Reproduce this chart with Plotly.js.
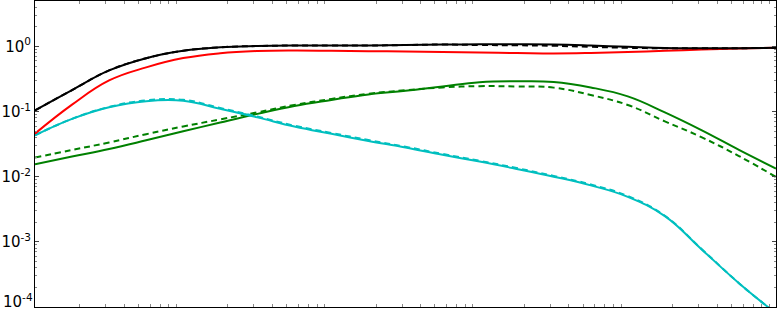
<!DOCTYPE html>
<html>
<head>
<meta charset="utf-8">
<script src="https://cdn.plot.ly/plotly-3.0.1.min.js"></script>
<style>html,body{margin:0;padding:0;background:#fff;}#chart{width:778px;height:313px;}</style>
</head>
<body>
<div id="chart"></div>
<script>
// x positions (log scale, 10^0 .. 10^5)
const xVals = [1, 1.778, 3.162, 5.623, 10, 17.78, 31.62, 56.23, 100, 177.8, 316.2, 562.3, 1000, 1778, 3162, 5623, 10000, 17783, 31623, 56234, 100000];

const blackSolid = [0.1045, 0.214, 0.429, 0.662, 0.859, 0.972, 1.018, 1.036, 1.036, 1.036, 1.054, 1.073, 1.081, 1.081, 1.073, 1.036, 0.989, 0.948, 0.942, 0.942, 0.955];
const blackDashed = [0.1045, 0.214, 0.429, 0.662, 0.859, 0.972, 1.018, 1.036, 1.036, 1.036, 1.054, 1.073, 1.054, 1.045, 1.027, 0.989, 0.955, 0.940, 0.940, 0.942, 0.955];
const redSolid = [0.0459, 0.128, 0.301, 0.478, 0.664, 0.789, 0.853, 0.868, 0.859, 0.847, 0.838, 0.823, 0.809, 0.795, 0.781, 0.795, 0.823, 0.859, 0.900, 0.932, 0.955];
const cyanSolid = [0.0433, 0.0774, 0.1166, 0.145, 0.147, 0.1102, 0.0816, 0.059, 0.0456, 0.0355, 0.0281, 0.0217, 0.0171, 0.0132, 0.01004, 0.00738, 0.00492, 0.00248, 0.00076, 0.000232, 0.0000798];
const cyanDashed = [0.0433, 0.0776, 0.118, 0.149, 0.152, 0.1135, 0.0840, 0.0608, 0.0470, 0.0366, 0.0289, 0.0224, 0.0176, 0.0136, 0.0103, 0.0076, 0.00505, 0.00252, 0.00077, 0.000232, 0.0000798];
const greenSolid = [0.01555, 0.0204, 0.0267, 0.0363, 0.0499, 0.0682, 0.0924, 0.1225, 0.1514, 0.1837, 0.2094, 0.2438, 0.2827, 0.2924, 0.2857, 0.2353, 0.1714, 0.0974, 0.0516, 0.0259, 0.01336];
const greenDashed = [0.0197, 0.0258, 0.0336, 0.0451, 0.0592, 0.0760, 0.0974, 0.1268, 0.1567, 0.1884, 0.2133, 0.2353, 0.2460, 0.2438, 0.2337, 0.1800, 0.1264, 0.0709, 0.0403, 0.0208, 0.00993];

const yTickVals = [1e-4, 1e-3, 1e-2, 1e-1, 1];
const yTickText = ['10<sup>-4</sup>', '10<sup>-3</sup>', '10<sup>-2</sup>', '10<sup>-1</sup>', '10<sup>0</sup>'];

const xMinor = [];
for (let e = 0; e < 5; e++) for (let m = 2; m <= 9; m++) xMinor.push(m * Math.pow(10, e));
const yMinor = [];
for (let e = -4; e < 1; e++) for (let m = 2; m <= 9; m++) yMinor.push(m * Math.pow(10, e));

const BLACK = '#000000', RED = '#ff0000', CYAN = '#00bfbf', GREEN = '#008000';
const W = 2, DASH = '6px,4px';
function tr(y, color, dash) {
  return {x: xVals, y: y, type: 'scatter', mode: 'lines', hoverinfo: 'skip',
    line: {color: color, width: W, dash: dash, shape: 'spline', smoothing: 1.2}};
}
const data = [
  tr(greenSolid, GREEN, 'solid'),
  tr(greenDashed, GREEN, DASH),
  tr(cyanSolid, CYAN, 'solid'),
  tr(cyanDashed, CYAN, DASH),
  tr(redSolid, RED, 'solid'),
  tr(blackSolid, BLACK, 'solid'),
  tr(blackDashed, BLACK, DASH)
];

// the lowest label sits just above the canvas edge, as in the reference
const shownText = yTickText.map((t, i) => i === 0 ? '' : t);

const layout = {
  width: 778, height: 313,
  margin: {l: 35, r: 2, t: 1, b: 6, pad: 0},
  paper_bgcolor: '#ffffff', plot_bgcolor: '#ffffff',
  showlegend: false,
  font: {family: 'DejaVu Sans, sans-serif', size: 15, color: '#000'},
  xaxis: {
    type: 'log', range: [0, 5], showgrid: false, zeroline: false,
    showline: true, linecolor: '#000', linewidth: 1, mirror: 'allticks',
    tickmode: 'array', tickvals: xMinor, showticklabels: false,
    ticks: 'inside', ticklen: 3, tickcolor: '#888', tickwidth: 1
  },
  yaxis: {
    type: 'log', range: [-4, 0.699], showgrid: false, zeroline: false,
    showline: true, linecolor: '#000', linewidth: 1, mirror: 'allticks',
    tickmode: 'array', tickvals: yTickVals, ticktext: shownText,
    ticks: 'inside', ticklen: 4, tickcolor: '#444', tickwidth: 1,
    tickfont: {family: 'DejaVu Sans, sans-serif', size: 15, color: '#000'},
    minor: {tickmode: 'array', tickvals: yMinor, ticks: 'inside', ticklen: 2, tickcolor: '#888', showgrid: false}
  },
  annotations: [{
    text: yTickText[0], xref: 'paper', yref: 'y', x: 0, y: Math.log10(yTickVals[0]),
    xanchor: 'right', yanchor: 'bottom', xshift: -1, yshift: -5, showarrow: false,
    font: {family: 'DejaVu Sans, sans-serif', size: 15, color: '#000'}, borderpad: 0
  }]
};
Plotly.newPlot('chart', data, layout, {staticPlot: true, displayModeBar: false});
</script>
</body>
</html>
